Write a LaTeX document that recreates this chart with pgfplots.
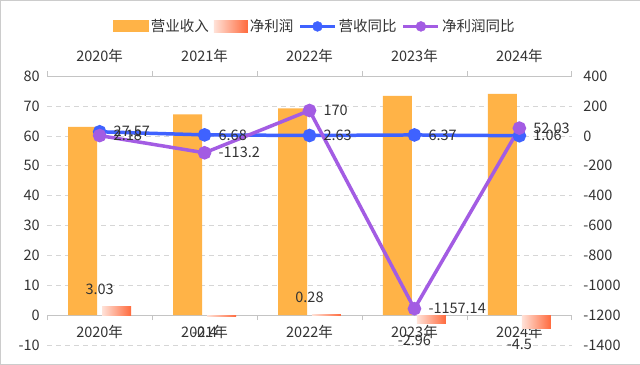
\documentclass[border=0pt]{standalone}
\usepackage{pgfplots}
\pgfplotsset{compat=1.18}
\usepackage{fontspec}
\setmainfont{Noto Sans CJK SC}
\definecolor{cOrange}{HTML}{FFB347}
\definecolor{cRedL}{HTML}{FFE2D8}
\definecolor{cRedR}{HTML}{FF6A3D}
\definecolor{cBlue}{HTML}{3F62FF}
\definecolor{cPurple}{HTML}{A35CE3}
\definecolor{cGrid}{HTML}{D6D6D6}
\definecolor{cAxis}{HTML}{C4C4C4}
\definecolor{cText}{HTML}{333333}
\pgfplotsset{
  redbar/.style={ybar, bar width=29pt, bar shift=17pt, left color=cRedL, right color=cRedR, draw=none,
    nodes near coords, point meta=explicit symbolic, forget plot},
  redpos/.style={redbar, every node near coord/.append style={text=cText, anchor=south, yshift=8pt}},
  redneg/.style={redbar, every node near coord/.append style={text=cText, anchor=north, yshift=-7pt}},
}
\begin{document}
\begin{tikzpicture}[font=\fontsize{14.5}{16}\selectfont]
\path[draw=gray!40, fill=white] (0pt,0pt) rectangle (640pt,364pt);
% ---------- bars (left axis) ----------
\begin{axis}[
  at={(47pt,19pt)}, anchor=south west,
  scale only axis, width=525pt, height=269pt,
  xmin=-0.5, xmax=4.5, ymin=-10, ymax=80,
  axis y line*=left, y axis line style={draw=none},
  ytick={-10,0,10,20,30,40,50,60,70,80},
  yticklabels={-10,0,10,20,30,40,50,60,70,80},
  ytick style={draw=none},
  yticklabel style={text=cText, xshift=-4pt},
  ymajorgrids, grid style={cGrid, dash pattern=on 5pt off 4pt, line width=0.8pt},
  axis x line*=middle, x axis line style={cAxis, line width=0.8pt, -},
  xtick={0,1,2,3,4},
  xticklabels={2020年,2021年,2022年,2023年,2024年},
  major x tick style={draw=none},
  minor xtick={-0.5,0.5,1.5,2.5,3.5,4.5},
  minor x tick style={cAxis, line width=0.8pt},
  minor tick length=5pt, xtick align=outside,
  xticklabel style={text=cText, yshift=-2pt},
  clip=false,
]
% 营业收入
\addplot[ybar, bar width=29pt, bar shift=-17pt, fill=cOrange, draw=none]
  coordinates {(0,63.0) (1,67.2) (2,69.2) (3,73.4) (4,74.1)};
% 净利润 (one bar per plot so that each bar has its own gradient)
\addplot[redpos] coordinates {(0,3.03)[3.03]};
\addplot[redneg] coordinates {(1,-0.4)[-0.4]};
\addplot[redpos] coordinates {(2,0.28)[0.28]};
\addplot[redneg] coordinates {(3,-2.96)[-2.96]};
\addplot[redneg] coordinates {(4,-4.5)[-4.5]};
\end{axis}
% ---------- lines (right axis) ----------
\begin{axis}[
  at={(47pt,19pt)}, anchor=south west,
  scale only axis, width=525pt, height=269pt,
  xmin=-0.5, xmax=4.5, ymin=-1400, ymax=400,
  axis y line*=right, y axis line style={draw=none},
  ytick={-1400,-1200,-1000,-800,-600,-400,-200,0,200,400},
  yticklabels={-1400,-1200,-1000,-800,-600,-400,-200,0,200,400},
  ytick style={draw=none},
  yticklabel style={text=cText, xshift=8pt},
  axis x line*=top, x axis line style={cAxis, line width=0.8pt, -},
  xtick={0,1,2,3,4},
  xticklabels={2020年,2021年,2022年,2023年,2024年},
  major x tick style={draw=none},
  minor xtick={-0.5,0.5,1.5,2.5,3.5,4.5},
  minor x tick style={cAxis, line width=0.8pt},
  minor tick length=5pt, xtick align=outside,
  xticklabel style={text=cText, yshift=6pt},
  clip=false,
  legend columns=4,
  legend style={draw=none, fill=none, at={(0.51,1.185)}, anchor=center,
    text=cText, inner sep=0pt,
    /tikz/every even column/.append style={column sep=3pt}},
]
\addlegendimage{legend image code/.code={\path[draw=none, fill=cOrange] (0pt,-6pt) rectangle (36pt,6pt);}}
\addlegendentry{营业收入}
\addlegendimage{legend image code/.code={\path[draw=none, left color=cRedL, right color=cRedR] (0pt,-6pt) rectangle (34pt,6pt);}}
\addlegendentry{净利润}
\addlegendimage{legend image code/.code={\draw[cBlue, line width=3.5pt] (0pt,0pt)--(35pt,0pt); \fill[cBlue] (17.5pt,0pt) circle (5pt);}}
\addlegendentry{营收同比}
\addlegendimage{legend image code/.code={\draw[cPurple, line width=3.5pt] (0pt,0pt)--(35pt,0pt); \fill[cPurple] (17.5pt,0pt) circle (5pt);}}
\addlegendentry{净利润同比}
\addplot[cBlue, line width=3.5pt, mark=*, mark size=5pt, mark options={solid, fill=cBlue},
  nodes near coords, point meta=explicit symbolic,
  every node near coord/.append style={text=cText, anchor=west, xshift=9pt}, forget plot]
  coordinates {(0,27.57)[27.57] (1,6.68)[6.68] (2,2.63)[2.63] (3,6.37)[6.37] (4,1.06)[1.06]};
\addplot[cPurple, line width=3.5pt, mark=*, mark size=5pt, mark options={solid, fill=cPurple},
  nodes near coords, point meta=explicit symbolic,
  every node near coord/.append style={text=cText, anchor=west, xshift=9pt}, forget plot]
  coordinates {(0,2.18)[2.18] (1,-113.2)[-113.2] (2,170)[170] (3,-1157.14)[-1157.14] (4,52.03)[52.03]};
\end{axis}
\end{tikzpicture}
\end{document}
